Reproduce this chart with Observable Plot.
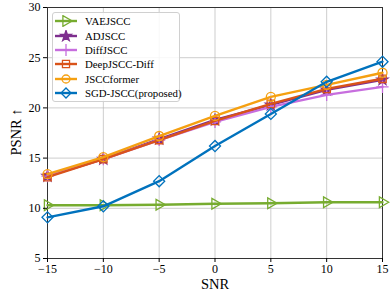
<!DOCTYPE html>
<html><head><meta charset="utf-8">
<script src="https://cdn.jsdelivr.net/npm/d3@7"></script>
<script src="https://cdn.jsdelivr.net/npm/@observablehq/plot@0.6"></script>
<style>
body{margin:0;background:#fff;font-family:"Liberation Serif","DejaVu Serif",serif;}
#wrap{position:relative;width:390px;height:293px;}
#legend{position:absolute;left:52px;top:12px;width:126px;height:86px;padding:1px 0 1px 0;border:1px solid #d0d0d0;border-radius:3px;background:rgba(255,255,255,0.85);font-size:10.8px;color:#000;white-space:nowrap;}
.row{display:flex;align-items:center;height:14.4px;}
.row svg{margin:0 8px 0 2px;flex:none;}
</style></head>
<body><div id="wrap"><div id="chart"></div><div id="legend"></div></div>
<script>
const snr = [-15, -10, -5, 0, 5, 10, 15];
const names = ["VAEJSCC", "ADJSCC", "DiffJSCC", "DeepJSCC-Diff", "JSCCformer", "SGD-JSCC(proposed)"];
const colors = ["#77ac30", "#7e2f8e", "#c76ede", "#d95319", "#f5a011", "#0072bd"];
const symbols = ["triangle", "star", "plus", "square", "circle", "diamond"];
const vaejscc = [10.3, 10.3, 10.35, 10.45, 10.5, 10.6, 10.6];
const adjscc = [13.2, 14.9, 16.9, 18.8, 20.3, 21.8, 22.8];
const diffjscc = [13.2, 14.9, 16.8, 18.6, 20.1, 21.3, 22.1];
const deepjsccdiff = [13.1, 14.9, 16.8, 18.7, 20.4, 21.9, 22.9];
const jsccformer = [13.4, 15.1, 17.2, 19.2, 21.1, 22.3, 23.5];
const sgdjscc = [9.1, 10.2, 12.7, 16.2, 19.4, 22.6, 24.6];
const yTicks = [5, 10, 15, 20, 25, 30];
const xTicks = [-15, -10, -5, 0, 5, 10, 15];

const allSeries = [vaejscc, adjscc, diffjscc, deepjsccdiff, jsccformer, sgdjscc];
const rows = [];
allSeries.forEach((vals, i) => vals.forEach((v, j) => rows.push({name: names[i], x: snr[j], y: v, i})));

const fmt = d => d < 0 ? "\u2212" + Math.abs(d) : String(d);
const marks = [
  Plot.gridX(xTicks, {stroke: "#b0b0b0", strokeOpacity: 0.8, strokeWidth: 0.8}),
  Plot.gridY(yTicks, {stroke: "#b0b0b0", strokeOpacity: 0.8, strokeWidth: 0.8}),
  Plot.frame({stroke: "#333", strokeWidth: 1})
];
const rOf = {triangle: 4, star: 3.4, plus: 4, square: 4.2, circle: 4.5, diamond: 4.4};
names.forEach((n, i) => {
  const d = rows.filter(r => r.i === i);
  marks.push(Plot.line(d, {x: "x", y: "y", stroke: colors[i], strokeWidth: 2.4}));
  const sym = symbols[i];
  const opts = {x: "x", y: "y", stroke: colors[i], strokeWidth: 1.3, symbol: () => sym, r: rOf[sym], fill: "none"};
  if (sym === "triangle") { opts.rotate = 90; }
  else if (sym === "star" || sym === "plus") { opts.fill = colors[i]; }
  else if (sym === "diamond") { opts.symbol = () => "square"; opts.rotate = 45; }
  marks.push(Plot.dot(d, opts));
});
marks.push(Plot.axisX(xTicks, {tickFormat: fmt, tickSize: 4, tickPadding: 2, fontSize: 12, label: null}));
marks.push(Plot.axisY(yTicks, {tickSize: 4, fontSize: 12, label: null, tickPadding: 3}));

const chart = Plot.plot({
  width: 390, height: 293,
  marginLeft: 47, marginRight: 8, marginTop: 7, marginBottom: 35,
  style: {fontFamily: "'Liberation Serif', serif", color: "#000", background: "#fff"},
  x: {domain: [-15, 15]},
  y: {domain: [5, 30]},
  marks
});
const svg = d3.select(chart);
svg.append("text").attr("x", 215).attr("y", 289).attr("text-anchor", "middle").attr("font-size", 14.5).attr("font-family", "'Liberation Serif', serif").text("SNR");
svg.append("text").attr("transform", "translate(21,132) rotate(-90)").attr("text-anchor", "middle").attr("font-size", 14.5).attr("font-family", "'Liberation Serif', serif").text("PSNR \u2191");
document.getElementById("chart").appendChild(chart);

const leg = d3.select("#legend");
names.forEach((n, i) => {
  const row = leg.append("div").attr("class", "row");
  const s = row.append("svg").attr("width", 22).attr("height", 12);
  s.append("line").attr("x1", 0).attr("x2", 22).attr("y1", 6).attr("y2", 6).attr("stroke", colors[i]).attr("stroke-width", 2.4);
  const sym = symbols[i];
  const type = {triangle: d3.symbolTriangle, star: d3.symbolStar, plus: d3.symbolPlus, square: d3.symbolSquare, circle: d3.symbolCircle, diamond: d3.symbolSquare}[sym];
  const rot = sym === "triangle" ? 90 : sym === "diamond" ? 45 : 0;
  const filled = sym === "star" || sym === "plus";
  s.append("path").attr("d", d3.symbol(type, sym === "star" ? 35 : 50)()).attr("transform", `translate(11,6) rotate(${rot})`)
    .attr("fill", filled ? colors[i] : "none").attr("stroke", colors[i]).attr("stroke-width", 1.3);
  row.append("span").text(n);
});
</script></body></html>
